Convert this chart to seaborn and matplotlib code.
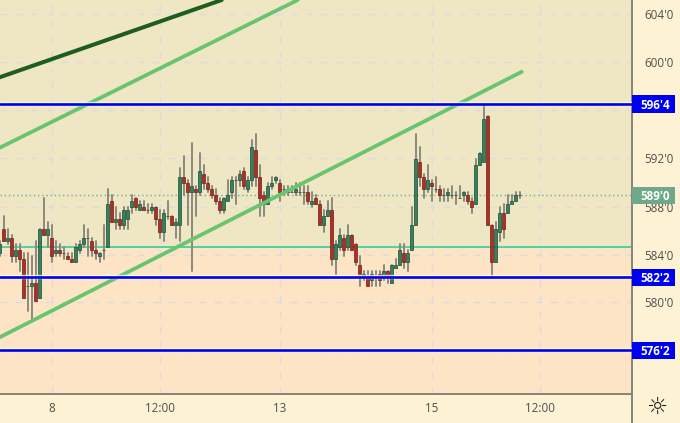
"""Futures candlestick chart with trend lines and price levels."""

import matplotlib
matplotlib.use("Agg")
import matplotlib.pyplot as plt
import numpy as np
import pandas as pd
import seaborn as sns
from matplotlib.patches import Rectangle
from matplotlib.transforms import blended_transform_factory

highs = [585.25, 587.25, 586.25, 585.75, 585, 585, 584.25, 584.25, 584, 585.25,
         586.25, 588.75, 586.75, 586.5, 585.25, 585, 584.75, 584.25, 584.25, 585,
         585.25, 586.5, 586.25, 585.5, 585.25, 584.25, 586.5, 589.5, 589, 588,
         587.5, 588, 588, 589, 588.75, 588.5, 588.5, 588.25, 588.25, 588,
         587.75, 587.75, 588.5, 587.25, 587, 591.25, 592.25, 590.25, 593.25, 589.75,
         592.5, 591.5, 590.5, 589.75, 589.5, 588.75, 588.75, 590.25, 590.5, 590.5,
         591, 591.25, 590.5, 593.5, 594, 591.5, 589.25, 590, 590.5, 590.5,
         590.25, 589.75, 589.75, 589.75, 590, 590, 589.75, 589.75, 589.25, 589,
         588.5, 587.75, 588.5, 588.75, 585.25, 586.25, 585.75, 586.5, 585.75, 585,
         584, 582.75, 582.75, 582.75, 582.75, 582.75, 583.25, 582.75, 583.25, 583.75,
         585, 585, 584.5, 588, 594, 593, 590.75, 591.5, 590.25, 590.5,
         589.75, 589.5, 589.5, 589.75, 589.25, 589.75, 589.25, 589.25, 588.75, 592,
         592.5, 596.5, 595.5, 586.5, 586.75, 588, 588.25, 589, 589, 589.25, 589.25]
lows = [584, 585.25, 585, 583.5, 583.5, 582.75, 580.5, 579.5, 578.75, 580.25,
        580.5, 585.75, 584.75, 583.5, 584, 584, 583.75, 583.75, 583.5, 583.5,
        584.25, 584.75, 584, 584, 583.75, 583.5, 583.75, 584.75, 586.75, 586.25,
        586.25, 586.25, 586.25, 587.5, 587.75, 587.75, 587.75, 587.5, 587.5, 586.5,
        585.5, 585.25, 587, 586.5, 585.5, 585.25, 589, 586.5, 582.75, 587.25,
        589, 589.5, 589.25, 588.75, 588.25, 587.5, 587.5, 588.5, 588.75, 588.25,
        589.75, 589.5, 589.25, 589.75, 589.75, 587.25, 587.25, 588.25, 589.5, 590,
        588.5, 589, 589, 589.25, 589, 589, 588.25, 588.25, 588, 588.25,
        586.5, 586, 587.25, 583.25, 582.5, 584.5, 584, 584.5, 584.5, 583.25,
        581.5, 582, 581.5, 581.5, 581.5, 581.5, 582, 581.75, 581.75, 583,
        583.25, 583, 582.75, 584.5, 586.5, 589.75, 588.75, 589.25, 588.5, 589.25,
        588.5, 588.5, 588.5, 588.75, 588.25, 588.75, 588.5, 588.25, 587.5, 588.25,
        591.5, 591.75, 586.5, 582.25, 583.5, 585.25, 585.5, 587.5, 588.25, 588.5, 588.75]
opens = [584.25, 586.25, 585.25, 585.5, 584, 584.5, 583.75, 581.5, 581.5, 581.75,
         580.5, 586.25, 585.75, 585.5, 584.25, 584.5, 584.25, 584, 583.75, 583.5,
         584.5, 585, 585.5, 585.25, 584.5, 584, 584.5, 584.75, 588.5, 586.75,
         587, 586.5, 587, 588, 588.75, 587.75, 588, 587.75, 587.75, 588,
         587, 586, 587.25, 587.25, 586.5, 586.5, 590.5, 590, 589.25, 589.5,
         589.25, 590.75, 590, 589.5, 589, 588.5, 587.75, 588.5, 589.25, 590.25,
         590.25, 591, 589.5, 590.25, 592.75, 590.5, 589, 588.25, 589.75, 590.25,
         590, 589.5, 589.5, 589.25, 589.25, 589.25, 589.25, 589.25, 588.25, 588.75,
         588.25, 586.5, 587.25, 587.75, 583.75, 584.75, 585.5, 584.75, 585.75, 585,
         583.25, 582.25, 582.25, 582, 582.25, 582.5, 582.25, 582.75, 581.75, 583,
         583.25, 584.25, 583.5, 584.5, 586.5, 591.75, 590.5, 589.5, 590, 589.5,
         589.5, 589, 589, 589, 589, 588.75, 589, 589, 588.5, 588.25,
         591.5, 591.75, 595.5, 586.5, 583.5, 586, 587.5, 587.5, 588.25, 588.5, 589]
closes = [585, 585.25, 585.5, 584, 584.5, 583.75, 580.5, 581.5, 581.75, 580.25,
          586.25, 585.75, 586.25, 584, 584.5, 584.25, 584.25, 583.75, 583.5, 584.75,
          585, 585.5, 585.5, 584.5, 584.25, 584.25, 584.5, 588.25, 586.75, 587,
          586.5, 587.75, 587.75, 588.5, 588, 588.25, 587.75, 587.75, 588, 587,
          586, 587.5, 587.25, 586.5, 586.75, 590.5, 590, 589.25, 589.75, 589.25,
          591, 590, 589.5, 589, 588.5, 587.75, 588.75, 589, 590.25, 590.25,
          590.75, 589.75, 590.25, 593, 590.5, 588.75, 588.25, 589.75, 590, 590.5,
          589.25, 589.5, 589.25, 589.25, 589.5, 589.25, 589.25, 588.5, 588.5, 588.25,
          586.5, 587.25, 587.75, 583.75, 585, 585.75, 584.5, 585.75, 584.5, 583.5,
          582.5, 582.5, 581.5, 582.5, 582.25, 582, 582.75, 582.25, 583.25, 583.25,
          584.5, 583.5, 584.25, 586.5, 592, 590.5, 589.5, 590.25, 589.75, 589.5,
          589, 589, 589.25, 589, 589, 588.75, 589.25, 588.5, 588, 591.5,
          592.5, 595.25, 586.5, 583.5, 586.25, 587.5, 586.25, 588.25, 588.5, 589, 589]

# blue levels and their labels
levels = [596.5, 582.25, 576.25]
level_labels = ["596'4", "582'2", "576'2"]
zone_split = 584.75
last_price = 589.0
last_label = "589'0"

# trend lines, candle number -> price
lower_channel_x = [0, 130.5]
lower_channel_y = [577.3, 599.15]
upper_channel_x = [0, 74.5]
upper_channel_y = [592.9, 605.06]
dark_trend_x = [0, 55.5]
dark_trend_y = [598.7, 605.06]

price_ticks = [603.9, 599.98, 596.03, 592.08, 588.05, 584.07, 580.18, 576.2]
price_labels = ["604'0", "600'0", "", "592'0", "588'0", "584'0", "580'0", ""]
time_ticks = [13, 40, 70, 108, 135]
time_labels = ["8", "12:00", "13", "15", "12:00"]

sns.set_theme(style="white")
plt.rcParams['font.family'] = ['Open Sans', 'DejaVu Sans']

PANEL = '#FEF2D4'
GREEN = '#35825F'
RED = '#AE2F24'

df = pd.DataFrame({'open': opens, 'high': highs, 'low': lows, 'close': closes})
df['candle'] = np.arange(len(df))
df['top'] = df[['open', 'close']].max(axis=1)
df['bottom'] = df[['open', 'close']].min(axis=1)
df['up'] = df['close'] >= df['open']

wicks = df.melt(id_vars='candle', value_vars=['high', 'low'], value_name='price')

fig = plt.figure(figsize=(6.8, 4.23), dpi=100, facecolor=PANEL)
ax = fig.add_axes([0, 29 / 423, 632 / 680, 394 / 423])
ax.set_xlim(0.07, 158.07)
ax.set_ylim(572.63, 605.06)

ax.axhspan(zone_split, 605.06, color='#EFE6C3', lw=0, zorder=0)
ax.axhspan(572.63, zone_split, color='#FCE4C4', lw=0, zorder=0)
ax.grid(True, color='#DCDCE0', lw=1, ls=(0, (5, 6)), zorder=1)
ax.set_axisbelow(True)

ax.axhline(zone_split, color='#22CC99', lw=1.1, zorder=2)
ax.axhline(last_price, color='#6FB08F', lw=1, ls=(0, (1, 2)), zorder=2)

sns.lineplot(data=wicks, x='candle', y='price', units='candle', estimator=None,
             color='#8A8A80', lw=1.4, ax=ax, legend=False, zorder=3)

for up, color in [(True, GREEN), (False, RED)]:
    part = df[df['up'] == up]
    ax.bar(part['candle'], part['top'] - part['bottom'], bottom=part['bottom'],
           width=0.72, color=color, edgecolor='#1F4A38' if up else '#6E2018',
           lw=0.5, zorder=4)

for x, y, color, width in [(lower_channel_x, lower_channel_y, '#68C46F', 2.7),
                           (upper_channel_x, upper_channel_y, '#68C46F', 2.7),
                           (dark_trend_x, dark_trend_y, '#1D5E1E', 2.9)]:
    sns.lineplot(x=x, y=y, color=color, lw=width, ax=ax, legend=False, zorder=5)

for level in levels:
    ax.axhline(level, color='white', lw=3.2, alpha=0.7, zorder=5)
    ax.axhline(level, color='#0000E6', lw=1.9, zorder=6)

ax.yaxis.tick_right()
ax.set_yticks(price_ticks, price_labels)
ax.set_xticks(time_ticks, time_labels)
ax.tick_params(axis='both', length=0, labelsize=8.4, labelcolor='#4F4F4F')
ax.tick_params(axis='y', pad=9)
ax.tick_params(axis='x', pad=5.8)
ax.set_xlabel('')
ax.set_ylabel('')

for side in ['top', 'left']:
    ax.spines[side].set_visible(False)
for side in ['right', 'bottom']:
    ax.spines[side].set_color('#85857A')
    ax.spines[side].set_linewidth(1.4)
ax.plot([1, 1], [-29 / 394, 0], transform=ax.transAxes, color='#85857A', lw=1.4,
        clip_on=False)

# price bubbles on the axis
trans = blended_transform_factory(ax.transAxes, ax.transData)
bubbles = [(p, t, '#0000F0') for p, t in zip(levels, level_labels)]
bubbles.append((last_price, last_label, '#6DA98A'))
for price, text, color in bubbles:
    ax.add_patch(Rectangle((1.0, price - 0.7), 43 / 632, 1.4, transform=trans,
                           color=color, lw=0, clip_on=False, zorder=8))
    ax.text(1 + 23.5 / 632, price, text, transform=trans, color='white', fontsize=8.4,
            fontweight='bold', ha='center', va='center_baseline', clip_on=False, zorder=9)

fig.text(657 / 680, 16 / 423, '\u263c', family='DejaVu Sans', fontsize=17, color='#222222',
         ha='center', va='center')

fig.savefig('out.png', dpi=100, facecolor=PANEL)
